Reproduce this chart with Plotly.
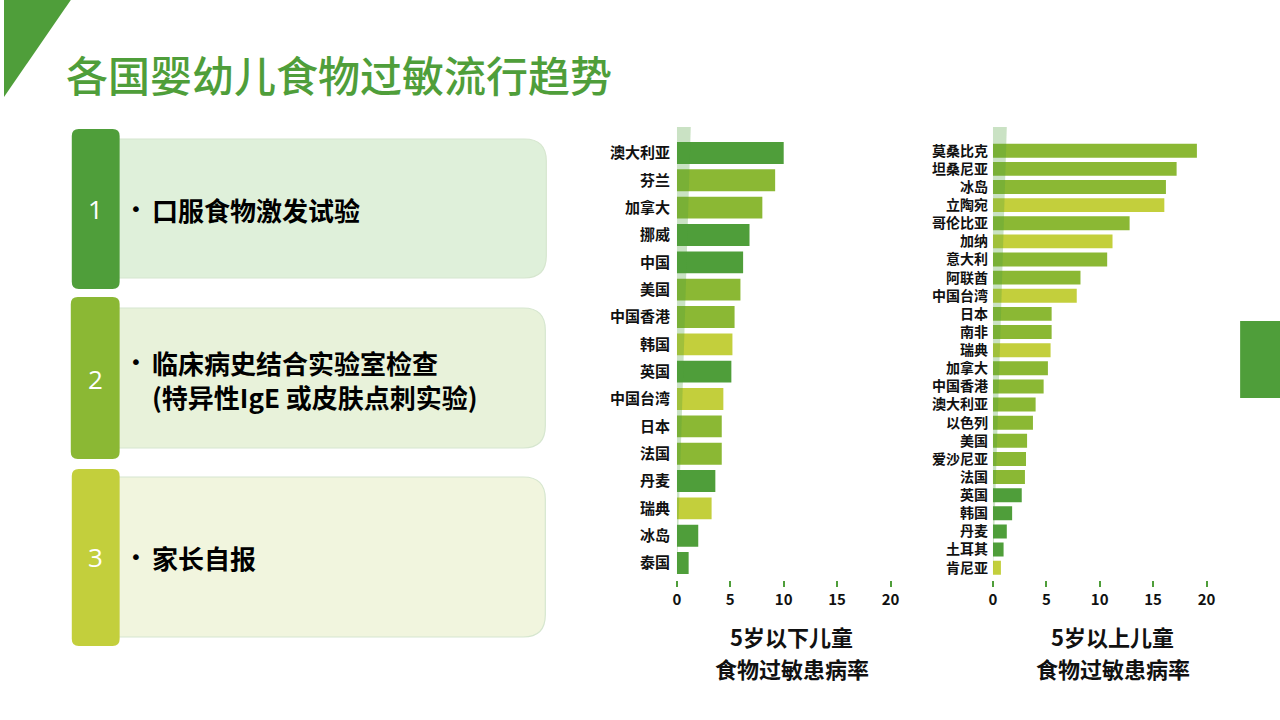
import plotly.graph_objects as go

# 5岁以下儿童
under5_countries = ['澳大利亚', '芬兰', '加拿大', '挪威', '中国', '美国', '中国香港', '韩国',
                    '英国', '中国台湾', '日本', '法国', '丹麦', '瑞典', '冰岛', '泰国']
under5_values = [10.0, 9.2, 8.0, 6.8, 6.2, 5.95, 5.4, 5.2, 5.1, 4.35, 4.2, 4.2, 3.6, 3.25, 2.0, 1.1]
under5_method = [1, 2, 2, 1, 1, 2, 2, 3, 1, 3, 2, 2, 1, 3, 1, 1]

# 5岁以上儿童
over5_countries = ['莫桑比克', '坦桑尼亚', '冰岛', '立陶宛', '哥伦比亚', '加纳', '意大利', '阿联酋',
                   '中国台湾', '日本', '南非', '瑞典', '加拿大', '中国香港', '澳大利亚', '以色列',
                   '美国', '爱沙尼亚', '法国', '英国', '韩国', '丹麦', '土耳其', '肯尼亚']
over5_values = [19.1, 17.2, 16.2, 16.05, 12.8, 11.2, 10.7, 8.2, 7.85, 5.5, 5.5, 5.4, 5.15, 4.75,
                4.0, 3.75, 3.2, 3.1, 3.0, 2.7, 1.8, 1.3, 1.0, 0.75]
over5_method = [2, 2, 2, 3, 2, 3, 2, 2, 3, 2, 2, 3, 2, 2, 2, 2, 2, 2, 2, 1, 1, 1, 1, 3]

method_labels = ['1', '2', '3']
method_texts = ['口服食物激发试验', '临床病史结合实验室检查<br>(特异性IgE 或皮肤点刺实验)', '家长自报']
axis_titles = [('5岁以下儿童', '食物过敏患病率'), ('5岁以上儿童', '食物过敏患病率')]

DARK = '#4F9E3A'
MID = '#8BB834'
YEL = '#C3CF3C'
method_colors = {1: DARK, 2: MID, 3: YEL}
box_colors = ['#DFF0DA', '#E8F2DA', '#F1F5DE']
FONT = 'Noto Sans CJK SC'

W, H = 1280, 720


def px(x):
    return x / W


def py(y):
    return 1 - y / H


def rounded_path(x0, y0, x1, y1, r_left, r_right):
    # rectangle in pixel coords, converted to paper coords
    pts = (f"M {px(x0 + r_left)},{py(y0)} L {px(x1 - r_right)},{py(y0)} "
           f"Q {px(x1)},{py(y0)} {px(x1)},{py(y0 + r_right)} "
           f"L {px(x1)},{py(y1 - r_right)} Q {px(x1)},{py(y1)} {px(x1 - r_right)},{py(y1)} "
           f"L {px(x0 + r_left)},{py(y1)} Q {px(x0)},{py(y1)} {px(x0)},{py(y1 - r_left)} "
           f"L {px(x0)},{py(y0 + r_left)} Q {px(x0)},{py(y0)} {px(x0 + r_left)},{py(y0)} Z")
    return pts


fig = go.Figure()

fig.add_trace(go.Bar(
    x=under5_values, y=under5_countries, orientation='h',
    marker=dict(color=[method_colors[m] for m in under5_method], line=dict(width=0)),
    width=0.8, xaxis='x', yaxis='y', showlegend=False
))
fig.add_trace(go.Bar(
    x=over5_values, y=over5_countries, orientation='h',
    marker=dict(color=[method_colors[m] for m in over5_method], line=dict(width=0)),
    width=0.77, xaxis='x2', yaxis='y2', showlegend=False
))

y_top, y_bot = 127, 580
axis_common = dict(
    range=[0, 21], tickvals=[0, 5, 10, 15, 20], ticks='outside', ticklen=6, tickwidth=2,
    tickcolor=DARK, showgrid=False, zeroline=False, showline=False,
    tickfont=dict(family=FONT, size=15, color='#111111', weight='bold')
)
fig.update_layout(
    width=W, height=H, margin=dict(l=0, r=0, t=0, b=0),
    paper_bgcolor='white', plot_bgcolor='rgba(0,0,0,0)',
    bargap=0.2,
    xaxis=dict(domain=[px(675), px(900)], anchor='y', **axis_common),
    xaxis2=dict(domain=[px(992), px(1217)], anchor='y2', **axis_common),
    yaxis=dict(domain=[py(y_bot), py(y_top)], anchor='x', type='category',
               range=[15.62, -0.95], showgrid=False, zeroline=False, ticks='', ticklabelstandoff=6,
               tickfont=dict(family=FONT, size=15, color='#111111', weight='bold')),
    yaxis2=dict(domain=[py(y_bot), py(y_top)], anchor='x2', type='category',
                range=[23.68, -1.31], showgrid=False, zeroline=False, ticks='', ticklabelstandoff=4,
                tickfont=dict(family=FONT, size=14, color='#111111', weight='bold')),
)

shapes = []
# corner triangle and right tab
shapes.append(dict(type='path', xref='paper', yref='paper', layer='below',
                   path=f"M {px(0)},{py(0)} L {px(67)},{py(0)} L {px(0)},{py(97)} Z",
                   fillcolor=DARK, line=dict(width=0)))
shapes.append(dict(type='rect', xref='paper', yref='paper', layer='below',
                   x0=px(1240), x1=px(1280), y0=py(398), y1=py(321),
                   fillcolor=DARK, line=dict(width=0)))

# translucent wedges over the bar charts
for xr in ['x', 'x2']:
    shapes.append(dict(type='path', xref=xr, yref='paper', layer='above',
                       path=f"M 0,{py(y_top)} L 1.3,{py(y_top)} L 0,{py(y_bot - 4)} Z",
                       fillcolor='rgba(78,158,58,0.3)', line=dict(width=0)))

# method boxes
tabs = [(68, 129, 116, 289), (67, 297, 116, 459), (68, 469, 116, 646)]
boxes = [(110, 139, 544, 278), (110, 308, 543, 448), (110, 477, 543, 637)]
tab_colors = [DARK, MID, YEL]
for i in range(3):
    bx0, by0, bx1, by1 = boxes[i]
    shapes.append(dict(type='path', xref='paper', yref='paper', layer='below',
                       path=rounded_path(bx0, by0, bx1, by1, 0, 22),
                       fillcolor=box_colors[i], line=dict(color='#D6E6CF', width=1.2)))
    tx0, ty0, tx1, ty1 = tabs[i]
    shapes.append(dict(type='path', xref='paper', yref='paper', layer='below',
                       path=rounded_path(tx0, ty0, tx1, ty1, 7, 7),
                       fillcolor=tab_colors[i], line=dict(width=0)))
fig.update_layout(shapes=shapes)

annotations = []
annotations.append(dict(text='各国婴幼儿食物过敏流行趋势', x=px(60), y=py(74), xref='paper', yref='paper',
                        xanchor='left', yanchor='middle', showarrow=False,
                        font=dict(family=FONT, size=42, color=DARK, weight=500)))
centers = [209, 379, 557]
for i in range(3):
    annotations.append(dict(text=method_labels[i], x=px(92), y=py(centers[i]), xref='paper', yref='paper',
                            xanchor='center', yanchor='middle', showarrow=False,
                            font=dict(family='Open Sans', size=26, color='white')))
    annotations.append(dict(text='•', x=px(124), y=py(centers[i] - (17 if i == 1 else 0)),
                            xref='paper', yref='paper', xanchor='left', yanchor='middle',
                            showarrow=False, font=dict(family='DejaVu Sans', size=20, color='black')))
    annotations.append(dict(text=f"<b>{method_texts[i]}</b>", x=px(146), y=py(centers[i]),
                            xref='paper', yref='paper', xanchor='left', yanchor='middle', align='left',
                            showarrow=False, font=dict(family=FONT, size=26, color='black')))

for (line1, line2), cx in zip(axis_titles, [790, 1112]):
    for txt, cy in [(line1, 636), (line2, 668)]:
        annotations.append(dict(text=txt, x=px(cx), y=py(cy), xref='paper', yref='paper',
                                xanchor='center', yanchor='middle', showarrow=False, borderpad=0,
                                font=dict(family=FONT, size=22, color='#111111', weight=600)))
fig.update_layout(annotations=annotations)

fig.write_html("out.html", config={'displayModeBar': False},
               post_script="document.body.style.margin='0';")
